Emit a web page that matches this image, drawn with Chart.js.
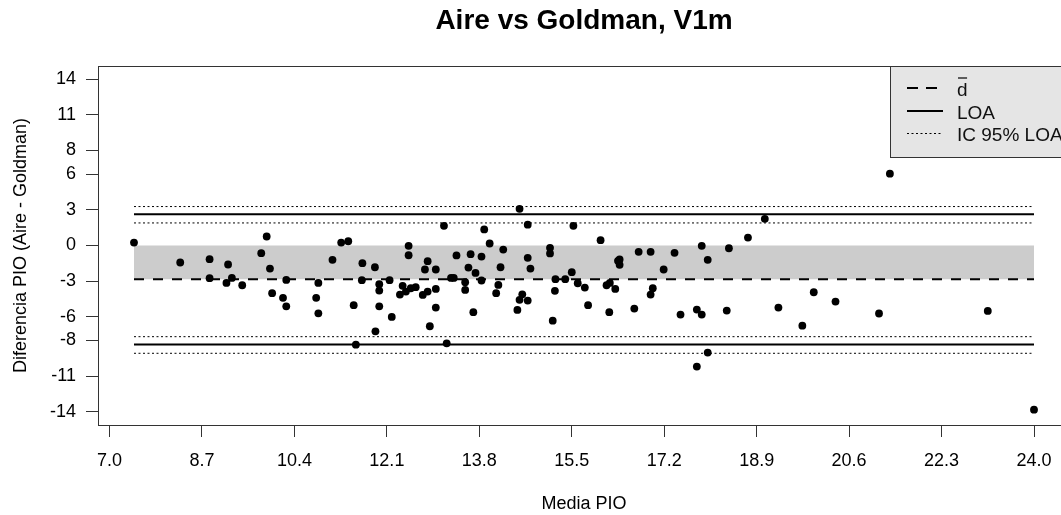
<!DOCTYPE html>
<html>
<head>
<meta charset="utf-8">
<script src="https://cdn.jsdelivr.net/npm/chart.js@4.4.1/dist/chart.umd.min.js"></script>
<style>
  html, body { margin: 0; padding: 0; overflow: hidden; background: #fff; }
  #wrap { width: 1075px; height: 515px; }
</style>
</head>
<body>
<div id="wrap"><canvas id="c" width="1075" height="515"></canvas></div>
<script>
// Bland-Altman: mean IOP of both methods vs difference (Aire - Goldman)
const mediaPIO = [
  7.45, 8.30, 8.84, 8.84, 9.18, 9.15, 9.25, 9.44, 9.79, 9.89,
  9.95, 9.99, 10.19, 10.25, 10.25, 10.80, 10.84, 10.84, 11.10, 11.26,
  11.39, 11.49, 11.53, 11.65, 11.64, 11.88, 11.96, 11.96, 11.96, 11.89,
  12.15, 12.19, 12.50, 12.50, 12.39, 12.34, 12.45, 12.54, 12.63,
  12.76, 12.85, 12.85, 12.80, 13.00, 13.00, 13.00, 12.89, 13.15, 13.20,
  13.28, 13.33, 13.38, 13.54, 13.54, 13.60, 13.64, 13.69, 13.73, 13.84,
  13.84, 13.89, 13.99, 14.11, 14.15, 14.19, 14.24, 14.50, 14.54, 14.59,
  14.54, 14.69, 14.69, 14.74, 14.69, 15.10, 15.10, 15.20, 15.19, 15.15,
  15.38, 15.50, 15.53, 15.61, 15.74, 15.80, 16.03, 16.14, 16.20, 16.30,
  16.19, 16.35, 16.38, 16.38, 16.65, 16.73, 16.95, 16.99, 16.95, 17.19,
  17.39, 17.50, 17.80, 17.89, 17.80, 18.00, 17.89, 18.00,
  18.39, 18.35, 18.74, 19.05, 19.30, 19.74, 19.95, 20.35, 21.15, 21.35,
  23.15, 24.00
];
const diferenciaPIO = [
  0.25, -1.43, -1.15, -2.75, -1.60, -3.15, -2.73, -3.35, -0.65, 0.76,
  -1.94, -4.02, -4.41, -2.90, -5.12, -4.41, -3.15, -5.71, -1.21, 0.25,
  0.36, -5.03, -8.35, -1.49, -2.92, -1.83, -3.26, -3.80, -5.12, -7.23,
  -2.92, -6.02, -0.03, -0.82, -3.40, -4.13, -3.88, -3.60, -3.51,
  -4.16, -3.88, -1.32, -2.02, -2.02, -3.66, -5.23, -6.80, 1.66, -8.24,
  -2.73, -2.73, -0.84, -3.09, -3.74, -1.86, -0.73, -5.62, -2.31, -0.93,
  -2.95, 1.35, 0.17, -4.02, -3.32, -1.83, -0.34, -5.43, -4.58, -4.11,
  3.09, 1.75, -1.04, -1.94, -4.64, -0.20, -0.67, -2.84, -3.82, -6.33,
  -2.84, -2.25, 1.66, -3.18, -3.54, -5.03, 0.45, -3.35, -3.15, -3.66,
  -5.62, -1.29, -1.18, -1.63, -5.31, -0.53, -0.53, -3.60, -4.13, -2.02,
  -0.62, -5.82, -5.40, -5.82, -10.20, -9.02, -0.03, -1.21,
  -0.23, -5.48, 0.67, 2.25, -5.23, -6.75, -3.94, -4.72, -5.73, 6.05,
  -5.51, -13.83
];

// Summary lines: mean difference, limits of agreement and their 95% CIs
const dMedia = -2.85;
const loaSup = 2.63;
const loaInf = -8.33;
const icLoaSup = [1.90, 3.28];
const icLoaInf = [-9.08, -7.68];

// Axis tick labels
const xTicks = [7.0, 8.7, 10.4, 12.1, 13.8, 15.5, 17.2, 18.9, 20.6, 22.3, 24.0];
const yTicks = [-14, -11, -8, -6, -3, 0, 3, 6, 8, 11, 14];
const yLim = [-14, 14];

const FONT = '"Liberation Sans", Arial, Helvetica, sans-serif';
const INK = '#000';
const AXIS = '#333';

const xFirst = Math.min(...mediaPIO);
const xLast = Math.max(...mediaPIO);
const xPad = (xLast - xFirst) * 0.04;
const yPad = (yLim[1] - yLim[0]) * 0.04;

const hline = (y) => [{ x: xFirst, y }, { x: xLast, y }];

const lineDs = (y, width, dash) => ({
  type: 'line',
  data: hline(y),
  borderColor: INK,
  borderWidth: width,
  borderDash: dash,
  pointRadius: 0,
  fill: false,
  order: 2
});

// Plot frame, title and legend box
const decor = {
  id: 'decor',
  afterDraw(chart) {
    const { ctx, chartArea: a } = chart;
    ctx.save();
    ctx.strokeStyle = AXIS;
    ctx.lineWidth = 1;
    ctx.strokeRect(Math.round(a.left) + 0.5, Math.round(a.top) + 0.5,
                   Math.round(a.right - a.left), Math.round(a.bottom - a.top));

    // title
    ctx.fillStyle = INK;
    ctx.font = 'bold 28px ' + FONT;
    ctx.textAlign = 'center';
    ctx.textBaseline = 'middle';
    ctx.fillText('Aire vs Goldman, V1m', (a.left + a.right) / 2, 21);

    // legend
    const lx = 890, ly = Math.round(a.top) + 0.5, lw = 200, lh = 91;
    ctx.fillStyle = '#e5e5e5';
    ctx.fillRect(lx + 0.5, ly, lw, lh);
    ctx.strokeStyle = AXIS;
    ctx.strokeRect(lx + 0.5, ly, lw, lh);

    const entries = [
      { label: 'd', bar: true, y: 88, w: 2, dash: [11, 8] },
      { label: 'LOA', y: 111, w: 2, dash: [] },
      { label: 'IC 95% LOA', y: 133.5, w: 1, dash: [2, 2.5] }
    ];
    ctx.textAlign = 'left';
    ctx.font = '19px ' + FONT;
    entries.forEach(e => {
      ctx.strokeStyle = INK;
      ctx.lineWidth = e.w;
      ctx.setLineDash(e.dash);
      ctx.beginPath();
      ctx.moveTo(907, e.y);
      ctx.lineTo(943, e.y);
      ctx.stroke();
      ctx.setLineDash([]);
      ctx.fillStyle = '#111';
      ctx.fillText(e.label, 957, e.y + 2.5);
      if (e.bar) {
        // overline of d-bar
        const tw = ctx.measureText(e.label).width;
        ctx.strokeStyle = '#111';
        ctx.lineWidth = 1.3;
        ctx.beginPath();
        ctx.moveTo(958, e.y - 10);
        ctx.lineTo(957 + tw - 0.5, e.y - 10);
        ctx.stroke();
      }
    });
    ctx.restore();
  }
};

new Chart(document.getElementById('c'), {
  type: 'scatter',
  data: {
    datasets: [
      {
        type: 'scatter',
        data: mediaPIO.map((x, i) => ({ x, y: diferenciaPIO[i] })),
        pointRadius: 3.9,
        pointBackgroundColor: INK,
        pointBorderWidth: 0,
        order: 1
      },
      {
        type: 'line',
        data: hline(dMedia),
        borderColor: 'rgba(0,0,0,0)',
        borderWidth: 0,
        pointRadius: 0,
        backgroundColor: '#cccccc',
        fill: { value: 0 },
        order: 3
      },
      lineDs(dMedia, 2, [10, 9]),
      lineDs(loaSup, 2, []),
      lineDs(loaInf, 2, []),
      lineDs(icLoaSup[0], 1, [2, 2.5]),
      lineDs(icLoaSup[1], 1, [2, 2.5]),
      lineDs(icLoaInf[0], 1, [2, 2.5]),
      lineDs(icLoaInf[1], 1, [2, 2.5])
    ]
  },
  options: {
    responsive: false,
    animation: false,
    devicePixelRatio: 1,
    events: [],
    layout: { padding: { top: 66, right: 5, left: 0, bottom: 0 } },
    plugins: {
      legend: { display: false },
      tooltip: { enabled: false },
      title: { display: false }
    },
    scales: {
      x: {
        type: 'linear',
        min: xFirst - xPad,
        max: xLast + xPad,
        afterBuildTicks: s => { s.ticks = xTicks.map(v => ({ value: v })); },
        afterFit: s => { s.height = 90; },
        ticks: {
          callback: v => Number(v).toFixed(1),
          font: { family: FONT, size: 18 },
          color: INK,
          padding: 13,
          autoSkip: false,
          maxRotation: 0
        },
        grid: { drawOnChartArea: false, tickLength: 12, color: AXIS, tickWidth: 1 },
        border: { color: AXIS, width: 1 },
        title: {
          display: true,
          text: 'Media PIO',
          font: { family: FONT, size: 18, lineHeight: 1.2 },
          color: INK,
          padding: { top: 0, bottom: 0 }
        }
      },
      y: {
        type: 'linear',
        min: yLim[0] - yPad,
        max: yLim[1] + yPad,
        afterBuildTicks: s => { s.ticks = yTicks.map(v => ({ value: v })); },
        afterFit: s => { s.width = 98; },
        ticks: {
          callback: v => String(v),
          font: { family: FONT, size: 18 },
          color: INK,
          padding: 10,
          autoSkip: false
        },
        grid: { drawOnChartArea: false, tickLength: 12, color: AXIS, tickWidth: 1 },
        border: { color: AXIS, width: 1 },
        title: {
          display: true,
          text: 'Diferencia PIO (Aire - Goldman)',
          font: { family: FONT, size: 18, lineHeight: 1.2 },
          color: INK,
          padding: { top: 10, bottom: 0 }
        }
      }
    }
  },
  plugins: [decor]
});
</script>
</body>
</html>
